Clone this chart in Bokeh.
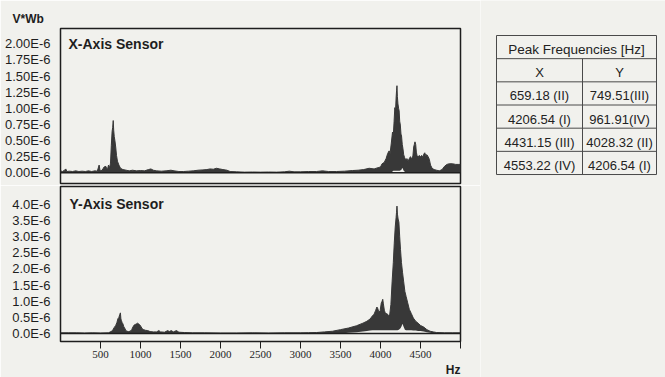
from bokeh.plotting import figure
from bokeh.layouts import row, column
from bokeh.models import FixedTicker, Span, Range1d, Title, Label
from bokeh.embed import file_html
from bokeh.resources import INLINE

# ---------------- data ----------------
# X-axis sensor spectrum (Hz, amplitude in 1E-6 V*Wb): upper and lower edge of the band
freq_x = [0, 25, 50, 66, 80, 110, 150, 190, 230, 270,
          310, 350, 390, 430, 460, 483, 495, 520, 545, 567,
          585, 600, 615, 625, 635, 645, 652, 659, 665, 672,
          680, 690, 700, 712, 730, 750, 780, 820, 860, 900,
          950, 1000, 1050, 1100, 1130, 1160, 1200, 1260, 1320, 1380,
          1420, 1480, 1540, 1600, 1660, 1720, 1780, 1830, 1870, 1910,
          1950, 1990, 2030, 2080, 2120, 2200, 2300, 2400, 2500, 2600,
          2700, 2800, 2860, 2920, 3000, 3100, 3200, 3275, 3350, 3450,
          3550, 3650, 3720, 3790, 3858, 3920, 3970, 4000, 4020, 4046,
          4070, 4090, 4108, 4120, 4135, 4150, 4160, 4170, 4179, 4188,
          4195, 4201, 4206, 4211, 4218, 4226, 4233, 4240, 4248, 4256,
          4263, 4272, 4280, 4290, 4300, 4315, 4330, 4345, 4360, 4375,
          4390, 4405, 4415, 4423, 4431, 4440, 4448, 4458, 4470, 4485,
          4500, 4515, 4530, 4542, 4553, 4565, 4580, 4595, 4610, 4625,
          4645, 4670, 4700, 4735, 4770, 4800, 4830, 4860, 4900, 4940,
          4980, 5000]
upper_x = [0.03, 0.02, 0.04, 0.06, 0.02, 0.025, 0.02, 0.03, 0.02, 0.025,
           0.02, 0.03, 0.02, 0.03, 0.025, 0.12, 0.03, 0.04, 0.09, 0.10,
           0.04, 0.12, 0.08, 0.15, 0.42, 0.64, 0.70, 0.81, 0.66, 0.56,
           0.50, 0.40, 0.27, 0.18, 0.12, 0.07, 0.05, 0.04, 0.03, 0.04,
           0.03, 0.035, 0.03, 0.05, 0.06, 0.04, 0.03, 0.025, 0.03, 0.04,
           0.03, 0.02, 0.02, 0.025, 0.03, 0.04, 0.045, 0.05, 0.06, 0.055,
           0.07, 0.06, 0.05, 0.04, 0.02, 0.015, 0.01, 0.012, 0.01, 0.012,
           0.01, 0.015, 0.025, 0.015, 0.015, 0.02, 0.02, 0.03, 0.02, 0.02,
           0.025, 0.035, 0.04, 0.05, 0.07, 0.06, 0.08, 0.09, 0.14, 0.16,
           0.22, 0.30, 0.34, 0.30, 0.46, 0.63, 0.58, 0.80, 1.01, 0.96,
           1.16, 1.28, 1.35, 1.18, 1.07, 1.00, 0.96, 0.80, 0.74, 0.60,
           0.57, 0.44, 0.38, 0.28, 0.24, 0.20, 0.22, 0.18, 0.22, 0.25,
           0.21, 0.26, 0.40, 0.44, 0.48, 0.44, 0.32, 0.26, 0.24, 0.27,
           0.25, 0.27, 0.24, 0.29, 0.31, 0.27, 0.28, 0.25, 0.21, 0.12,
           0.07, 0.05, 0.04, 0.03, 0.05, 0.10, 0.13, 0.14, 0.14, 0.13,
           0.13, 0.13]
lower_x = [0, 0, 0, 0, 0, 0, 0, 0, 0, 0,
           0, 0, 0, 0, 0, 0, 0, 0, 0, 0,
           0, 0, 0, 0, 0, 0, 0, 0, 0, 0,
           0, 0, 0, 0, 0, 0, 0, 0, 0, 0,
           0, 0, 0, 0, 0, 0, 0, 0, 0, 0,
           0, 0, 0, 0, 0, 0, 0, 0, 0, 0,
           0, 0, 0, 0, 0, 0, 0, 0, 0, 0,
           0, 0, 0, 0, 0, 0, 0, 0, 0, 0,
           0, 0, 0, 0, 0, 0, 0, 0, 0, 0,
           0, 0, 0, 0, 0, 0.02, 0.03, 0.03, 0.03, 0.03,
           0.03, 0.03, 0.03, 0.03, 0.03, 0.03, 0.03, 0.03, 0.04, 0.04,
           0.05, 0.08, 0.06, 0.03, 0.02, 0, 0, 0, 0, 0,
           0, 0, 0, 0, 0, 0, 0, 0, 0, 0,
           0, 0, 0, 0, 0, 0, 0, 0, 0, 0,
           0, 0, 0, 0, 0, 0, 0, 0, 0, 0,
           0, 0]

# Y-axis sensor spectrum
freq_y = [0, 100, 200, 300, 400, 500, 600, 630, 650, 670,
          690, 705, 718, 730, 740, 749, 755, 762, 770, 780,
          790, 800, 815, 830, 850, 870, 890, 905, 920, 935,
          950, 962, 975, 990, 1005, 1020, 1040, 1060, 1090, 1120,
          1160, 1200, 1230, 1250, 1300, 1340, 1360, 1385, 1410, 1450,
          1480, 1550, 1650, 1800, 2000, 2200, 2400, 2600, 2800, 3000,
          3100, 3200, 3300, 3400, 3500, 3600, 3700, 3780, 3830, 3870,
          3900, 3920, 3940, 3955, 3965, 3980, 3995, 4010, 4020, 4028,
          4036, 4048, 4065, 4080, 4100, 4115, 4130, 4145, 4160, 4172,
          4184, 4195, 4200, 4206, 4212, 4220, 4230, 4240, 4250, 4262,
          4275, 4290, 4305, 4320, 4340, 4360, 4385, 4410, 4440, 4470,
          4500, 4540, 4580, 4620, 4660, 4700, 4800, 4900, 5000]
upper_y = [0.02, 0.02, 0.02, 0.015, 0.02, 0.015, 0.02, 0.06, 0.09, 0.18,
           0.25, 0.34, 0.46, 0.50, 0.58, 0.64, 0.45, 0.40, 0.34, 0.30,
           0.22, 0.18, 0.10, 0.07, 0.06, 0.07, 0.12, 0.20, 0.26, 0.28,
           0.30, 0.32, 0.30, 0.27, 0.22, 0.15, 0.12, 0.10, 0.09, 0.06,
           0.05, 0.05, 0.09, 0.05, 0.04, 0.09, 0.06, 0.09, 0.05, 0.09,
           0.04, 0.03, 0.02, 0.02, 0.015, 0.015, 0.02, 0.015, 0.02, 0.02,
           0.025, 0.03, 0.05, 0.07, 0.12, 0.17, 0.24, 0.32, 0.38, 0.45,
           0.55, 0.60, 0.72, 0.82, 0.78, 0.66, 0.70, 0.95, 1.00, 1.06,
           0.92, 0.72, 0.60, 0.62, 0.56, 0.58, 0.90, 1.60, 2.20, 2.80,
           3.30, 3.60, 3.75, 3.95, 3.70, 3.55, 3.45, 3.00, 2.60, 2.20,
           1.90, 1.60, 1.30, 1.15, 0.95, 0.75, 0.62, 0.48, 0.38, 0.32,
           0.25, 0.20, 0.12, 0.07, 0.05, 0.03, 0.02, 0.02, 0.02]
lower_y = [0, 0, 0, 0, 0, 0, 0, 0, 0, 0,
           0, 0, 0, 0, 0, 0, 0, 0, 0, 0,
           0, 0, 0, 0, 0, 0, 0, 0, 0, 0,
           0, 0, 0, 0, 0, 0, 0, 0, 0, 0,
           0, 0, 0, 0, 0, 0, 0, 0, 0, 0,
           0, 0, 0, 0, 0, 0, 0, 0, 0, 0,
           0, 0, 0, 0, 0, 0.02, 0.04, 0.06, 0.08, 0.09,
           0.10, 0.10, 0.10, 0.10, 0.10, 0.10, 0.10, 0.10, 0.10, 0.10,
           0.10, 0.10, 0.10, 0.10, 0.10, 0.10, 0.10, 0.10, 0.10, 0.10,
           0.10, 0.10, 0.10, 0.10, 0.10, 0.11, 0.12, 0.14, 0.16, 0.22,
           0.30, 0.20, 0.12, 0.10, 0.10, 0.10, 0.10, 0.09, 0.09, 0.08,
           0.08, 0.06, 0.04, 0.02, 0, 0, 0, 0, 0]

x_ticks = [500, 1000, 1500, 2000, 2500, 3000, 3500, 4000, 4500, 5000]
x_tick_labels = ["500", "1000", "1500", "2000", "2500", "3000", "3500", "4000", "4500", ""]
top_ticks = [0.0, 0.25, 0.5, 0.75, 1.0, 1.25, 1.5, 1.75, 2.0]
top_tick_labels = ["0.00E-6", "0.25E-6", "0.50E-6", "0.75E-6", "1.00E-6",
                   "1.25E-6", "1.50E-6", "1.75E-6", "2.00E-6"]
bot_ticks = [0.0, 0.5, 1.0, 1.5, 2.0, 2.5, 3.0, 3.5, 4.0]
bot_tick_labels = ["0.0E-6", "0.5E-6", "1.0E-6", "1.5E-6", "2.0E-6",
                   "2.5E-6", "3.0E-6", "3.5E-6", "4.0E-6"]

table_title = "Peak Frequencies [Hz]"
table_headers = ["X", "Y"]
peaks_x = ["659.18 (II)", "4206.54 (I)", "4431.15 (III)", "4553.22 (IV)"]
peaks_y = ["749.51(III)", "961.91(IV)", "4028.32 (II)", "4206.54 (I)"]

# ---------------- style / layout ----------------
BG = "#f1f1ed"
INK = "#1e1e1e"
FILL = "#383838"
FONT = "Liberation Sans"

X0, X1 = 0, 5000
FW = 400
LEFT, RIGHT = 60, 20
T_FH, T_TOP, T_BOT = 155, 28, 2
T_Y0, T_Y1 = -0.166, 2.237
B_FH, B_TOP, B_BOT = 155, 1, 36
B_Y0, B_Y1 = -0.248, 4.558
sx = (X1 - X0) / FW
sy_t = (T_Y1 - T_Y0) / T_FH
sy_b = (B_Y1 - B_Y0) / B_FH


def panel(fh, top, bot, y0, y1, ticks, labels, xaxis):
    p = figure(width=LEFT + FW + RIGHT, height=top + fh + bot,
               x_range=Range1d(X0, X1), y_range=Range1d(y0, y1),
               output_backend="svg", toolbar_location=None, tools="",
               min_border_left=LEFT, min_border_right=RIGHT,
               min_border_top=top, min_border_bottom=bot,
               x_axis_location="below" if xaxis else None)
    p.background_fill_color = BG
    p.border_fill_color = BG
    p.grid.visible = False
    p.outline_line_color = INK
    p.outline_line_width = 1.5
    ax = p.yaxis[0]
    ax.ticker = FixedTicker(ticks=ticks)
    ax.major_label_overrides = {t: l for t, l in zip(ticks, labels)}
    ax.major_tick_line_color = None
    ax.minor_tick_line_color = None
    ax.axis_line_color = None
    ax.major_label_standoff = 4
    ax.major_label_text_font = FONT
    ax.major_label_text_font_size = "13px"
    ax.major_label_text_color = INK
    return p


p1 = panel(T_FH, T_TOP, T_BOT, T_Y0, T_Y1, top_ticks, top_tick_labels, False)
p2 = panel(B_FH, B_TOP, B_BOT, B_Y0, B_Y1, bot_ticks, bot_tick_labels, True)

# unit label above the upper panel
p1.title.text = "V*Wb"
p1.title.align = "left"
p1.title.offset = -48
p1.title.standoff = 5
p1.title.text_font = FONT
p1.title.text_font_size = "12px"
p1.title.text_font_style = "bold"
p1.title.text_color = INK

xa = p2.xaxis[0]
xa.ticker = FixedTicker(ticks=x_ticks)
xa.major_label_overrides = {t: l for t, l in zip(x_ticks, x_tick_labels)}
xa.major_tick_in = 0
xa.major_tick_out = 7
xa.major_tick_line_color = INK
xa.minor_tick_line_color = None
xa.axis_line_color = INK
xa.major_label_standoff = 2
xa.major_label_text_font = "Liberation Sans Narrow"
xa.major_label_text_font_size = "11px"
xa.major_label_text_color = INK

p2.add_layout(Title(text="Hz", align="right", standoff=0, text_font=FONT,
                    text_font_size="12px", text_font_style="bold", text_color=INK), "below")

for p, f, lo, up in ((p1, freq_x, lower_x, upper_x), (p2, freq_y, lower_y, upper_y)):
    p.varea(x=f, y1=lo, y2=up, fill_color=FILL)
    p.line(x=f, y=up, line_color=FILL, line_width=1)
    p.add_layout(Span(location=0, dimension="width", line_color=INK, line_width=1.5))

p1.add_layout(Label(x=X0 + 8 * sx, y=T_Y1 - 15.7 * sy_t, text="X-Axis Sensor",
                    text_font=FONT, text_font_size="14px", text_font_style="bold",
                    text_color=INK, text_align="left", text_baseline="middle"))
p2.add_layout(Label(x=X0 + 9 * sx, y=B_Y1 - 17 * sy_b, text="Y-Axis Sensor",
                    text_font=FONT, text_font_size="14px", text_font_style="bold",
                    text_color=INK, text_align="left", text_baseline="middle"))

# ---------------- table ----------------
TW, TH = 185, T_TOP + T_FH + T_BOT + B_TOP + B_FH + B_BOT
p3 = figure(width=TW, height=TH, x_range=Range1d(0, TW), y_range=Range1d(TH, 0),
            output_backend="svg", toolbar_location=None, tools="",
            min_border=0, x_axis_location=None, y_axis_location=None)
p3.background_fill_color = BG
p3.border_fill_color = BG
p3.outline_line_color = None
p3.grid.visible = False

TL, TM, TR, TT = 16, 102, 176, 35
RH = 23.17
nrows = 2 + len(peaks_x)
TB = TT + nrows * RH
hx0 = [TL] * (nrows + 1)
hx1 = [TR] * (nrows + 1)
hy = [TT + k * RH for k in range(nrows + 1)]
p3.segment(x0=hx0, y0=hy, x1=hx1, y1=hy, line_color="#4a4a4a", line_width=1)
p3.segment(x0=[TL, TR, TM], y0=[TT, TT, TT + RH], x1=[TL, TR, TM], y1=[TB, TB, TB],
           line_color="#4a4a4a", line_width=1)

cx = [(TL + TR) / 2, (TL + TM) / 2, (TM + TR) / 2]
DY = 2.5
p3.text(x=[cx[0]], y=[TT + RH / 2 + DY], text=[table_title], text_align="center",
        text_baseline="middle", text_font={"value": FONT}, text_font_size={"value": "13.5px"},
        text_color="#222222")
tx, ty, tt = [], [], []
for j, h in enumerate(table_headers):
    tx.append(cx[1 + j]); ty.append(TT + 1.5 * RH + DY); tt.append(h)
for i, (a, b) in enumerate(zip(peaks_x, peaks_y)):
    yy = TT + (2.5 + i) * RH + DY
    tx += [cx[1], cx[2]]; ty += [yy, yy]; tt += [a, b]
p3.text(x=tx, y=ty, text=tt, text_align="center", text_baseline="middle",
        text_font={"value": FONT}, text_font_size={"value": "13px"}, text_color="#222222")

layout = row(column(p1, p2), p3)
open("out.html", "w").write(file_html(layout, INLINE))
